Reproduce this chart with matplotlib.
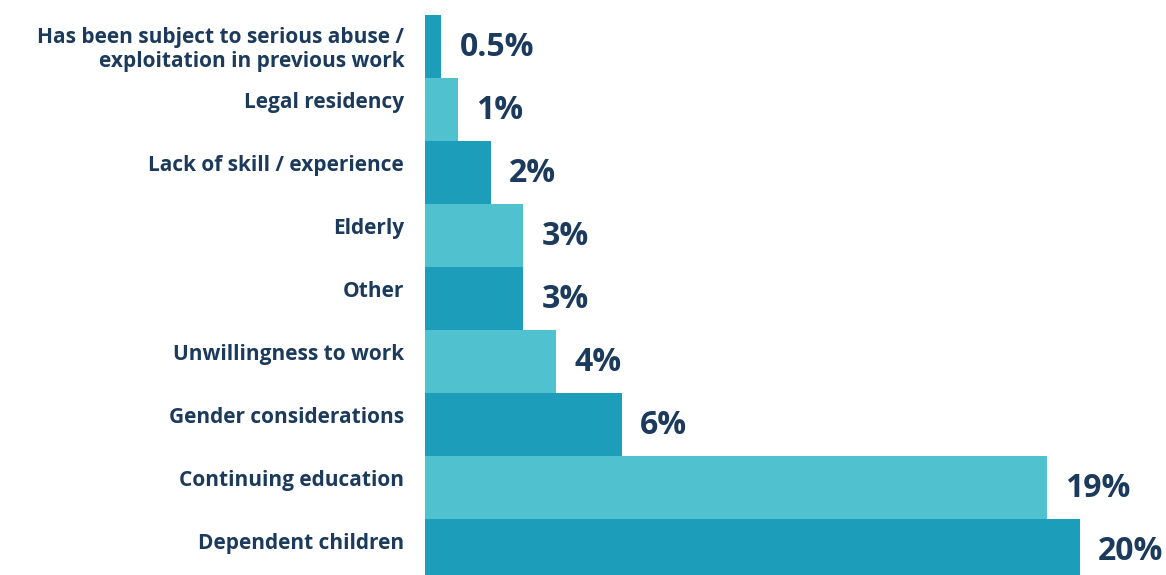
import matplotlib
matplotlib.use("Agg")
from matplotlib import pyplot as plt

# Reasons for not working (share of respondents, %)
categories = [
    "Has been subject to serious abuse /\nexploitation in previous work",
    "Legal residency",
    "Lack of skill / experience",
    "Elderly",
    "Other",
    "Unwillingness to work",
    "Gender considerations",
    "Continuing education",
    "Dependent children",
]
values = [0.5, 1, 2, 3, 3, 4, 6, 19, 20]
value_labels = ["0.5%", "1%", "2%", "3%", "3%", "4%", "6%", "19%", "20%"]

dark = "#1C9DB9"
light = "#50C1CE"
navy = "#1B3A5C"

plt.rcParams['font.family'] = ['Open Sans', 'DejaVu Sans']

fig = plt.figure(figsize=(11.66, 5.75), dpi=100)
# bars fill the axes exactly; bottom bar runs off the bottom of the picture
ax = fig.add_axes([425 / 1166, -7 / 575, 741 / 1166, 567 / 575])

pos = list(range(len(categories)))
colors = [dark if i % 2 == 0 else light for i in pos]
ax.barh(pos, values, height=1.0, color=colors, linewidth=0)

ax.set_ylim(len(categories) - 0.5, -0.5)
ax.set_xlim(0, 741 / 32.75)

for i, (cat, v, lab) in enumerate(zip(categories, values, value_labels)):
    # category label on the left, a little above bar centre
    dy = 5 if "\n" not in cat else -2
    ax.annotate(cat, xy=(0, i), xytext=(-15, dy), textcoords='offset points',
                ha='right', va='center', fontsize=15, fontweight='bold',
                color=navy, linespacing=1.2)
    # value label right of the bar
    ax.annotate(lab, xy=(v, i), xytext=(13, -1), textcoords='offset points',
                ha='left', va='center', fontsize=23, fontweight='bold',
                color=navy)

ax.axis('off')

plt.savefig('out.png', dpi=100)
